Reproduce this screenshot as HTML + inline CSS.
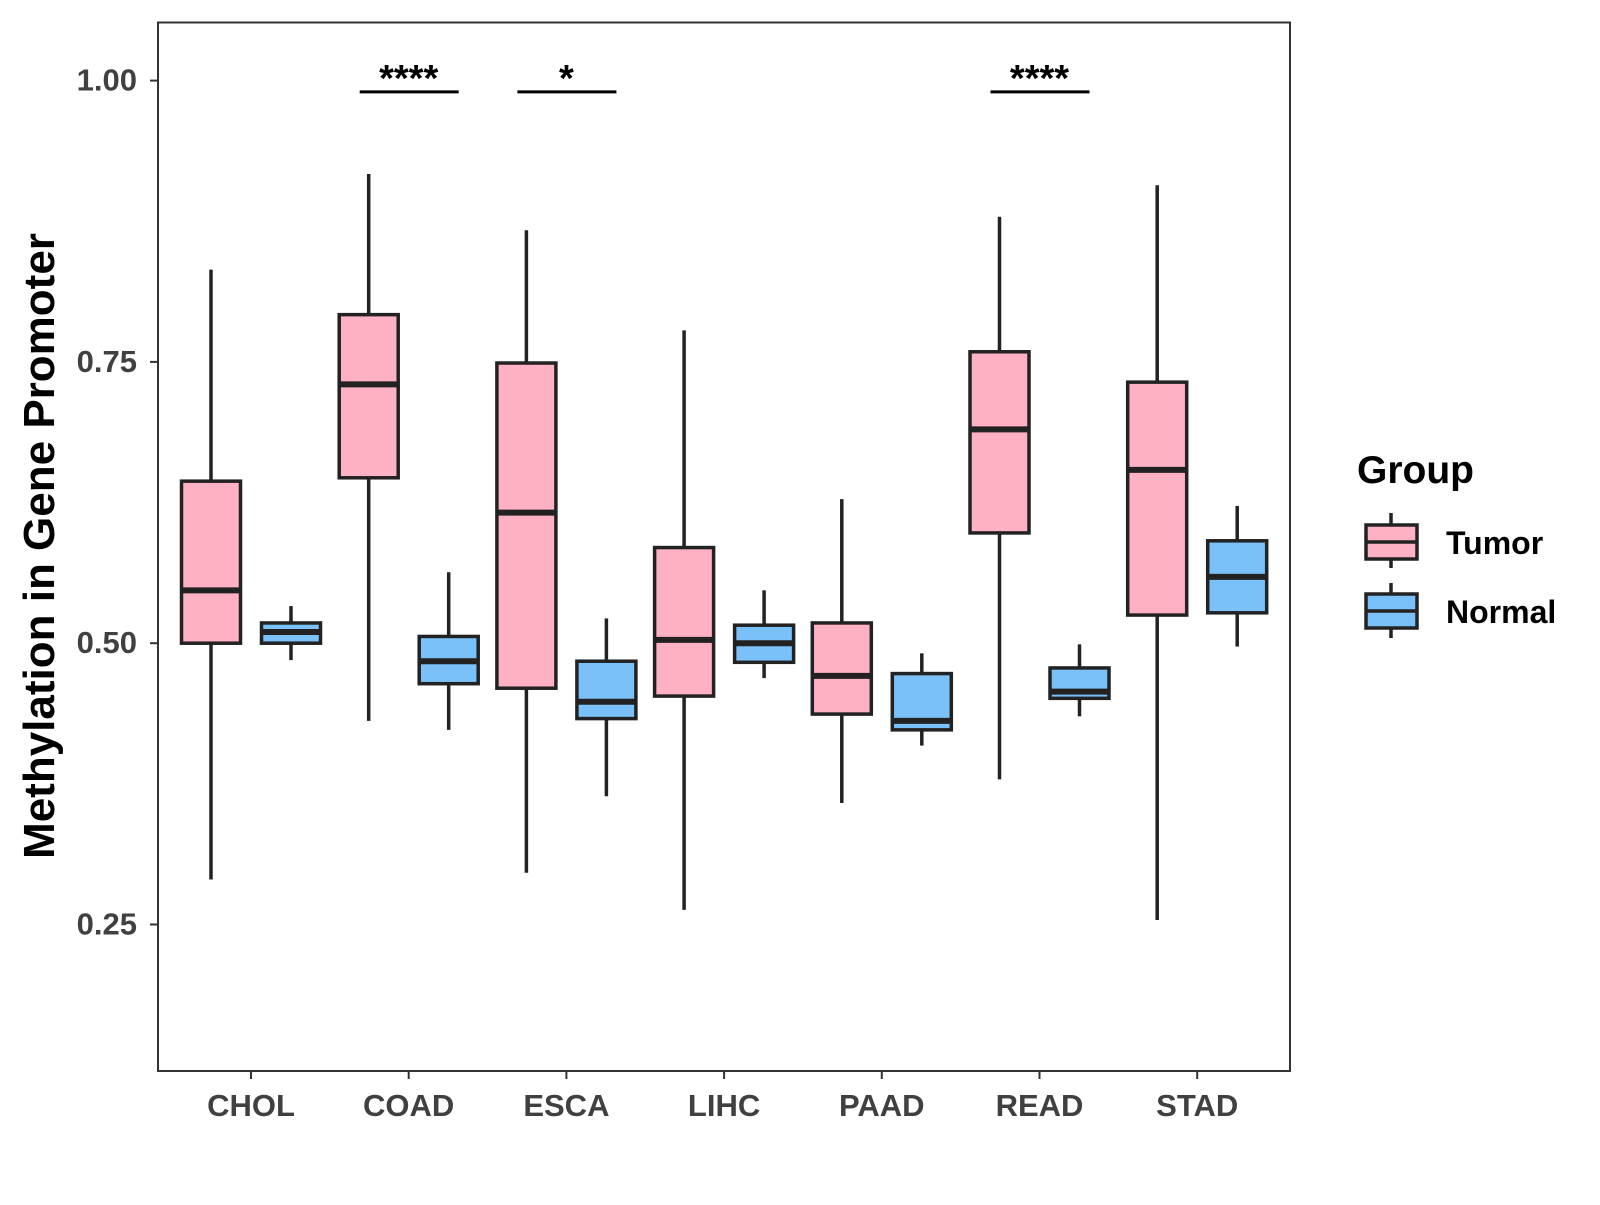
<!DOCTYPE html>
<html><head><meta charset="utf-8"><style>
html,body{margin:0;padding:0;background:#fff;}
svg text{font-family:"Liberation Sans",Arial,sans-serif;font-weight:bold;}
</style></head><body>
<svg id="chart" width="1600" height="1200" xmlns="http://www.w3.org/2000/svg">
<rect x="0" y="0" width="1600" height="1200" fill="#fff"/>
<g id="marks"></g>
<rect x="158" y="22.5" width="1132" height="1048.5" fill="none" stroke="#333" stroke-width="2"/>
<text transform="translate(54,546) rotate(-90)" text-anchor="middle" font-size="44" fill="#000">Methylation in Gene Promoter</text>
<text x="1357" y="483" font-size="39" fill="#000">Group</text>
<g>
<line x1="1391" y1="513" x2="1391" y2="524" stroke="#222" stroke-width="3.5"/>
<line x1="1391" y1="559" x2="1391" y2="568" stroke="#222" stroke-width="3.5"/>
<rect x="1366" y="525" width="51" height="34" fill="#FFB1C4" stroke="#222" stroke-width="3.5"/>
<line x1="1366" y1="542" x2="1417" y2="542" stroke="#222" stroke-width="3.5"/>
<text x="1446" y="554" font-size="32" fill="#000">Tumor</text>
</g>
<g>
<line x1="1391" y1="583" x2="1391" y2="594" stroke="#222" stroke-width="3.5"/>
<line x1="1391" y1="629" x2="1391" y2="638" stroke="#222" stroke-width="3.5"/>
<rect x="1366" y="594" width="51" height="34" fill="#79C1F8" stroke="#222" stroke-width="3.5"/>
<line x1="1366" y1="611" x2="1417" y2="611" stroke="#222" stroke-width="3.5"/>
<text x="1446" y="623" font-size="32" fill="#000">Normal</text>
</g>
</svg>
<script>
const categories=["CHOL","COAD","ESCA","LIHC","PAAD","READ","STAD"];
const tumorLow=[0.290,0.431,0.296,0.263,0.358,0.379,0.254];
const tumorQ1=[0.500,0.647,0.460,0.453,0.437,0.598,0.525];
const tumorMed=[0.547,0.730,0.616,0.503,0.471,0.690,0.654];
const tumorQ3=[0.644,0.792,0.749,0.585,0.518,0.759,0.732];
const tumorHigh=[0.832,0.917,0.867,0.778,0.628,0.879,0.907];
const normalLow=[0.485,0.423,0.364,0.469,0.409,0.435,0.497];
const normalQ1=[0.500,0.464,0.433,0.483,0.423,0.451,0.527];
const normalMed=[0.510,0.484,0.448,0.500,0.431,0.457,0.559];
const normalQ3=[0.518,0.506,0.484,0.516,0.473,0.478,0.591];
const normalHigh=[0.533,0.563,0.522,0.547,0.491,0.499,0.622];
const yTicks=[0.25,0.50,0.75,1.00];
const yTickLabels=["0.25","0.50","0.75","1.00"];
const sigCategories=["COAD","ESCA","READ"];
const sigLabels=["****","*","****"];
const sigLevel=[0.99,0.99,0.99];

const NS="http://www.w3.org/2000/svg";
const svg=document.getElementById('chart');
const g=document.getElementById('marks');
function y(v){return 80.6+(1-v)*1125.2;}
function x(i){return 251+i*157.7;}
function el(tag,attrs,parent){const e=document.createElementNS(NS,tag);for(const k in attrs)e.setAttribute(k,attrs[k]);(parent||g).appendChild(e);return e;}

yTicks.forEach((t,i)=>{
  const l=el('line',{x1:150,x2:158,y1:y(t),y2:y(t),stroke:'#333','stroke-width':2},svg);
  
  
  const tx=el('text',{x:137,y:y(t)+10,'text-anchor':'end','font-size':31,fill:'#404040'},svg);
  tx.textContent=yTickLabels[i];
  
  
});
categories.forEach((c,i)=>{
  const l=el('line',{x1:x(i),x2:x(i),y1:1071,y2:1079,stroke:'#333','stroke-width':2},svg);
  
  
  const tx=el('text',{x:x(i),y:1116,'text-anchor':'middle','font-size':31,fill:'#404040'},svg);
  tx.textContent=c;
  
  
});
function box(cx,lo,q1,md,q3,hi,fill,name){
  const grp=el('g',{});
  
  
  const w=59,sw=3.5,st='#222';
  el('line',{x1:cx,x2:cx,y1:y(hi),y2:y(q3),stroke:st,'stroke-width':sw},grp);
  el('line',{x1:cx,x2:cx,y1:y(q1),y2:y(lo),stroke:st,'stroke-width':sw},grp);
  el('rect',{x:cx-w/2,y:y(q3),width:w,height:y(q1)-y(q3),fill:fill,stroke:st,'stroke-width':sw},grp);
  el('line',{x1:cx-w/2,x2:cx+w/2,y1:y(md),y2:y(md),stroke:st,'stroke-width':6},grp);
}
categories.forEach((c,i)=>{
  box(x(i)-40,tumorLow[i],tumorQ1[i],tumorMed[i],tumorQ3[i],tumorHigh[i],'#FFB1C4','box-tumor-'+c.toLowerCase());
  box(x(i)+40,normalLow[i],normalQ1[i],normalMed[i],normalQ3[i],normalHigh[i],'#79C1F8','box-normal-'+c.toLowerCase());
});
sigCategories.forEach((c,k)=>{
  const i=categories.indexOf(c);
  const l=el('line',{x1:x(i)-49,x2:x(i)+50,y1:y(sigLevel[k]),y2:y(sigLevel[k]),stroke:'#000','stroke-width':3});
  
  
  const t=el('text',{x:x(i),y:y(sigLevel[k])-1,'text-anchor':'middle','font-size':38,fill:'#000'});
  t.textContent=sigLabels[k];
  
  
});
</script>
</body></html>
